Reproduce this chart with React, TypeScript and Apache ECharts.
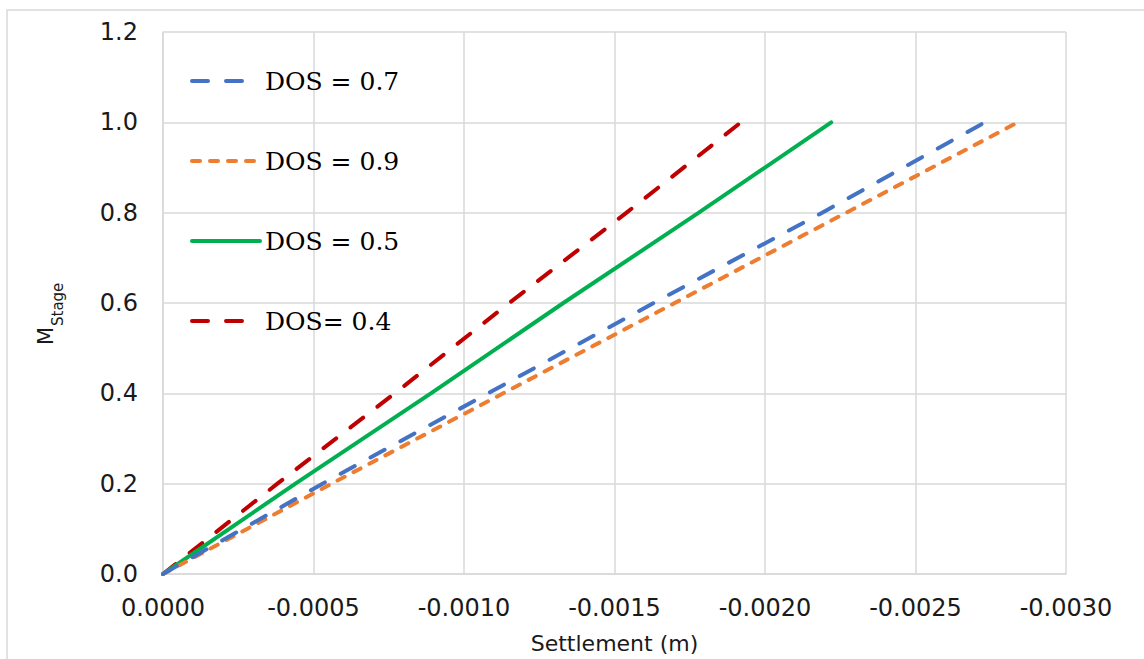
import React, { useEffect, useRef } from "react";
import * as echarts from "echarts";

// M_Stage levels shared by all series
const mStage = [0, 0.2, 0.4, 0.6, 0.8, 1.0];
// Settlement (m) per DOS series
const settleDos07 = [0, -0.00053, -0.00108, -0.00163, -0.00219, -0.00273];
const settleDos09 = [0, -0.00056, -0.00113, -0.0017, -0.00227, -0.00284];
const settleDos05 = [0, -0.00044, -0.00089, -0.00133, -0.00178, -0.00222];
const settleDos04 = [0, -0.00038, -0.00077, -0.00115, -0.00154, -0.00192];

const seriesNames = ["DOS = 0.7", "DOS = 0.9", "DOS = 0.5", "DOS= 0.4"];
const seriesColors = ["#4472C4", "#ED7D31", "#00B050", "#C00000"];

const xTickMin = -0.003;
const xTickMax = 0;
const xTickStep = 0.0005;
const yTickMin = 0;
const yTickMax = 1.2;
const yTickStep = 0.2;

const GRID = "#d9d9d9";
const AXIS_FONT = "'DejaVu Sans', sans-serif";
const LEGEND_FONT = "'DejaVu Serif', serif";

function pairs(xs: number[], ys: number[]) {
  return xs.map((x, i) => [x, ys[i]]);
}

export default function App() {
  const ref = useRef<HTMLDivElement>(null);
  useEffect(() => {
    if (!ref.current) return;
    const chart = echarts.init(ref.current, null, { renderer: "svg" });
    const allSeries = [settleDos07, settleDos09, settleDos05, settleDos04];
    const dashes: any[] = [[16, 18], [8, 10], "solid", [16, 18]];
    chart.setOption({
      animation: false,
      backgroundColor: "#ffffff",
      grid: { left: 163, right: 78, top: 32, bottom: 85, containLabel: false },
      legend: {
        orient: "vertical",
        left: 185,
        top: 55,
        itemWidth: 68,
        itemHeight: 14,
        itemGap: 38,
        itemStyle: { opacity: 0 },
        lineStyle: { width: 4, cap: "round" },
        textStyle: {
          fontFamily: LEGEND_FONT,
          fontSize: 25,
          lineHeight: 25,
          color: "#000",
          padding: [17, 0, 0, 0],
        },
        data: seriesNames,
      },
      xAxis: {
        type: "value",
        min: xTickMin,
        max: xTickMax,
        interval: xTickStep,
        inverse: true,
        name: "Settlement (m)",
        nameLocation: "middle",
        nameGap: 58,
        nameTextStyle: { fontFamily: AXIS_FONT, fontSize: 22, color: "#1a1a1a" },
        axisLine: { show: true, lineStyle: { color: GRID, width: 1.5 } },
        axisTick: { show: false },
        splitLine: { show: true, lineStyle: { color: GRID, width: 1.5 } },
        axisLabel: {
          fontFamily: AXIS_FONT,
          fontSize: 24,
          color: "#1a1a1a",
          margin: 22,
          formatter: (v: number) => (Math.abs(v) < 1e-12 ? "0.0000" : v.toFixed(4)),
        },
      },
      yAxis: {
        type: "value",
        min: yTickMin,
        max: yTickMax,
        interval: yTickStep,
        axisLine: { show: true, lineStyle: { color: GRID, width: 1.5 } },
        axisTick: { show: false },
        splitLine: { show: true, lineStyle: { color: GRID, width: 1.5 } },
        axisLabel: {
          fontFamily: AXIS_FONT,
          fontSize: 24,
          color: "#1a1a1a",
          margin: 25,
          formatter: (v: number) => v.toFixed(1),
        },
      },
      graphic: [
        {
          type: "rect",
          shape: { x: 7, y: 10, width: 1160, height: 700 },
          style: { fill: "none", stroke: GRID, lineWidth: 1.5 },
          silent: true,
          z: -10,
        },
        {
          type: "group",
          x: 54,
          y: 345,
          rotation: Math.PI / 2,
          children: [
            {
              type: "text",
              x: 0,
              y: -8,
              style: {
                text: "M",
                font: "21px 'DejaVu Sans', sans-serif",
                fill: "#1a1a1a",
                textAlign: "left",
                textVerticalAlign: "middle",
              },
            },
            {
              type: "text",
              x: 19,
              y: 4,
              style: {
                text: "Stage",
                font: "15px 'DejaVu Sans', sans-serif",
                fill: "#1a1a1a",
                textAlign: "left",
                textVerticalAlign: "middle",
              },
            },
          ],
        },
      ],
      series: allSeries.map((xs, i) => ({
        name: seriesNames[i],
        type: "line",
        data: pairs(xs, mStage),
        symbol: "none",
        showSymbol: false,
        color: seriesColors[i],
        lineStyle: { color: seriesColors[i], width: 4, type: dashes[i], cap: "round" },
        z: 10 - i,
      })),
    });
    return () => chart.dispose();
  }, []);
  return (
    <div
      ref={ref}
      style={{ position: "absolute", left: 0, top: 0, width: 1144, height: 659, background: "#fff" }}
    />
  );
}
